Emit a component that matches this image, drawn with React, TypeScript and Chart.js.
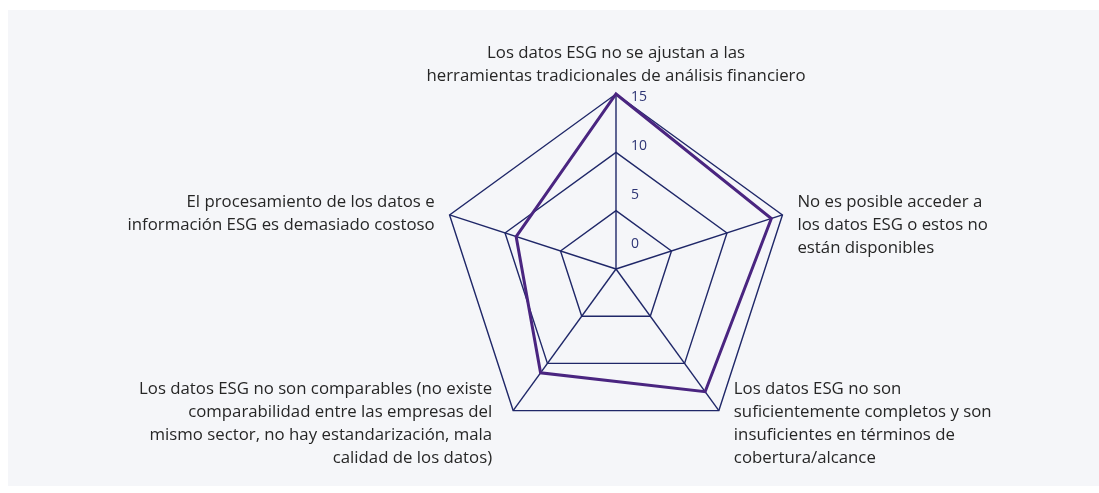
import React, { useEffect, useRef } from "react";
import { Chart, registerables } from "chart.js";

Chart.register(...registerables);

const categories: string[][] = [
  ["Los datos ESG no se ajustan a las", "herramientas tradicionales de análisis financiero"],
  ["No es posible acceder a", "los datos ESG o estos no", "están disponibles"],
  [
    "Los datos ESG no son",
    "suficientemente completos y son",
    "insuficientes en términos de",
    "cobertura/alcance",
  ],
  [
    "Los datos ESG no son comparables (no existe",
    "comparabilidad entre las empresas del",
    "mismo sector, no hay estandarización, mala",
    "calidad de los datos)",
  ],
  ["El procesamiento de los datos e", "información ESG es demasiado costoso"],
];

const seriesValues: number[] = [15, 14, 13, 11, 9];
const tickValues: number[] = [0, 5, 10, 15];

const FONT = "'Open Sans', 'Noto Sans', sans-serif";
const LABEL_SIZE = 16.8;
const LINE_H = 23;
const TEXT_COLOR = "#262626";
const GRID_COLOR = "#1f2768";
const LINE_COLOR = "#4a2580";
const TICK_COLOR = "#2e3575";
const PANEL_BG = "#f5f6f9";

// alignment and offsets of each category label relative to its outer vertex
const LABEL_LAYOUT = [
  { align: "center", dx: 0, dy: -41 },
  { align: "left", dx: 15, dy: -13 },
  { align: "left", dx: 15, dy: -21 },
  { align: "right", dx: -21, dy: -21 },
  { align: "right", dx: -15, dy: -13 },
];

const labelPlugin = {
  id: "customLabels",
  afterDraw(chart: any) {
    const scale = chart.scales.r;
    const ctx = chart.ctx as CanvasRenderingContext2D;
    ctx.save();
    ctx.font = `${LABEL_SIZE}px ${FONT}`;
    ctx.fillStyle = TEXT_COLOR;
    ctx.textBaseline = "middle";
    categories.forEach((lines, i) => {
      const p = scale.getPointPosition(i, scale.drawingArea);
      const lay = LABEL_LAYOUT[i];
      ctx.textAlign = lay.align as CanvasTextAlign;
      lines.forEach((line, j) => {
        ctx.fillText(line, p.x + lay.dx, p.y + lay.dy + j * LINE_H);
      });
    });
    ctx.font = `14px ${FONT}`;
    ctx.fillStyle = TICK_COLOR;
    ctx.textAlign = "left";
    tickValues.forEach((v) => {
      const d = scale.getDistanceFromCenterForValue(v);
      ctx.fillText(String(v), scale.xCenter + 15, scale.yCenter - (25 + 0.84 * d));
    });
    ctx.restore();
  },
};

export default function App() {
  const ref = useRef<HTMLCanvasElement | null>(null);

  useEffect(() => {
    if (!ref.current) return;
    const chart = new Chart(ref.current, {
      type: "radar",
      data: {
        labels: categories,
        datasets: [
          {
            data: seriesValues,
            borderColor: LINE_COLOR,
            borderWidth: 3,
            fill: false,
            pointRadius: 0,
            pointHoverRadius: 0,
            tension: 0,
          },
        ],
      },
      options: {
        responsive: false,
        animation: false,
        events: [],
        layout: { padding: { top: 84, bottom: 42, left: 433, right: 308 } },
        plugins: { legend: { display: false }, tooltip: { enabled: false } },
        scales: {
          r: {
            min: 0,
            max: 15,
            beginAtZero: true,
            ticks: { display: false, stepSize: 5 },
            pointLabels: { display: false },
            grid: { color: GRID_COLOR, lineWidth: 1.4, circular: false },
            angleLines: { color: GRID_COLOR, lineWidth: 1.4 },
          },
        },
      },
      plugins: [labelPlugin],
    });
    return () => chart.destroy();
  }, []);

  return (
    <div
      style={{
        position: "absolute",
        left: 8,
        top: 10,
        width: 1091,
        height: 476,
        background: PANEL_BG,
      }}
    >
      <canvas ref={ref} width={1091} height={476} style={{ display: "block" }} />
    </div>
  );
}
